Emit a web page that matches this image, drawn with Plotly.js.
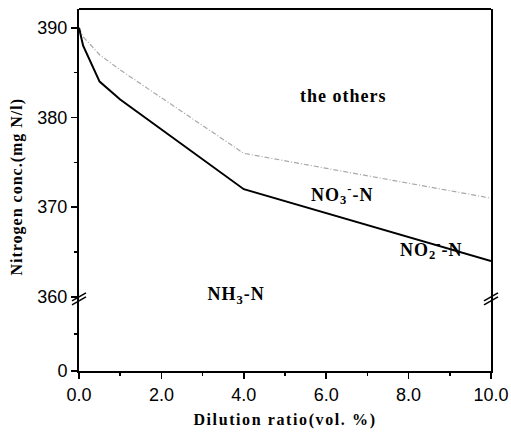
<!DOCTYPE html>
<html>
<head>
<meta charset="utf-8">
<script src="https://cdn.plot.ly/plotly-3.0.1.min.js"></script>
<style>
html,body{margin:0;padding:0;background:#fff;}
#chart{width:511px;height:432px;}
#chart .xtitle{letter-spacing:1.6px;}
#chart .annotation-text{letter-spacing:1px;}
</style>
</head>
<body>
<div id="chart"></div>
<script>
// Data
var dilution = [0, 0.1, 0.5, 1, 4, 10];
var nh3Top = [390, 388, 384, 382, 372, 364];        // boundary NH3-N / NO2-N,NO3-N (solid)
var othersBottom = [390, 389, 387, 385.3, 376, 371]; // boundary NO3-N / the others (dash-dot)
var xTicks = [0, 2, 4, 6, 8, 10];
var yUpperTicks = [360, 370, 380, 390];
var yLowerTicks = [0];

var serif = 'Liberation Serif, Times New Roman, serif';
var titleFont = {family: serif, size: 16, color: '#000', weight: 700};
var labelFont = {family: serif, size: 18, color: '#000', weight: 700};
var tickFont = {family: 'Liberation Sans, Arial, sans-serif', size: 18, color: '#000'};

var traces = [
  {x: [], y: [], xaxis: 'x', yaxis: 'y', type: 'scatter', mode: 'lines', showlegend: false, hoverinfo: 'skip'},
  {x: dilution, y: othersBottom, xaxis: 'x', yaxis: 'y2', type: 'scatter', mode: 'lines',
   line: {color: '#a8a8a8', width: 1.2, dash: '5px,2px,1px,2px'}, showlegend: false},
  {x: dilution, y: nh3Top, xaxis: 'x', yaxis: 'y2', type: 'scatter', mode: 'lines',
   line: {color: '#000', width: 2}, showlegend: false}
];

var split = 0.205;
function px(dx) { return dx / 412; }
function py(dy) { return dy / 362; }

var layout = {
  width: 511, height: 432,
  margin: {l: 79, r: 20, t: 9, b: 61},
  paper_bgcolor: '#fff', plot_bgcolor: '#fff',
  showlegend: false,
  xaxis: {
    range: [0, 10], tickvals: xTicks, ticktext: xTicks.map(function(v){return v.toFixed(1);}),
    ticks: 'outside', ticklen: 6, tickwidth: 1.5, tickcolor: '#000',
    minor: {dtick: 1, ticks: 'outside', ticklen: 3, tickcolor: '#000', showgrid: false},
    showline: true, linecolor: '#000', linewidth: 2, showgrid: false, zeroline: false,
    tickfont: tickFont, anchor: 'y',
    title: {text: 'Dilution ratio(vol. %)', font: titleFont, standoff: 10}
  },
  yaxis: {
    domain: [0, split], range: [0, 360], tickvals: yLowerTicks,
    ticks: 'outside', ticklen: 6, tickwidth: 1.5, tickcolor: '#000',
    minor: {dtick: 180, ticks: 'outside', ticklen: 3, tickcolor: '#000', showgrid: false},
    showline: true, mirror: true, linecolor: '#000', linewidth: 2, showgrid: false, zeroline: false,
    tickfont: tickFont, anchor: 'x'
  },
  yaxis2: {
    domain: [split, 1], range: [360, 392.1], tickvals: yUpperTicks,
    ticks: 'outside', ticklen: 6, tickwidth: 1.5, tickcolor: '#000',
    minor: {dtick: 5, ticks: 'outside', ticklen: 3, tickcolor: '#000', showgrid: false},
    showline: true, mirror: true, linecolor: '#000', linewidth: 2, showgrid: false, zeroline: false,
    tickfont: tickFont, anchor: 'x'
  },
  annotations: [
    {xref: 'paper', yref: 'paper', x: -0.15, y: 0.51, xanchor: 'center', yanchor: 'middle',
     text: 'Nitrogen conc.(mg N/l)', textangle: -90, showarrow: false, font: titleFont},
    {xref: 'x', yref: 'y2', x: 6.4, y: 382.4, text: 'the others', showarrow: false, font: labelFont},
    {xref: 'x', yref: 'y2', x: 6.4, y: 371.4, text: 'NO<sub>3</sub><sup>-</sup>-N', showarrow: false, font: labelFont},
    {xref: 'x', yref: 'y2', x: 8.55, y: 365.3, text: 'NO<sub>2</sub><sup>-</sup>-N', showarrow: false, font: labelFont},
    {xref: 'x', yref: 'y2', x: 3.8, y: 360.2, text: 'NH<sub>3</sub>-N', showarrow: false, font: labelFont}
  ],
  shapes: [
    {type: 'line', xref: 'paper', yref: 'paper', x0: 0, x1: 1, y0: 1, y1: 1, line: {color: '#000', width: 2}},
    // axis-break marks, left
    {type: 'line', xref: 'paper', yref: 'paper', x0: px(-7), x1: px(7), y0: split - py(4), y1: split + py(4), line: {color: '#000', width: 1.5}},
    {type: 'line', xref: 'paper', yref: 'paper', x0: px(-7), x1: px(7), y0: split - py(8), y1: split, line: {color: '#000', width: 1.5}},
    // axis-break marks, right
    {type: 'line', xref: 'paper', yref: 'paper', x0: 1 + px(-7), x1: 1 + px(7), y0: split - py(4), y1: split + py(4), line: {color: '#000', width: 1.5}},
    {type: 'line', xref: 'paper', yref: 'paper', x0: 1 + px(-7), x1: 1 + px(7), y0: split - py(8), y1: split, line: {color: '#000', width: 1.5}}
  ]
};

Plotly.newPlot('chart', traces, layout, {displayModeBar: false, staticPlot: true});
</script>
</body>
</html>
